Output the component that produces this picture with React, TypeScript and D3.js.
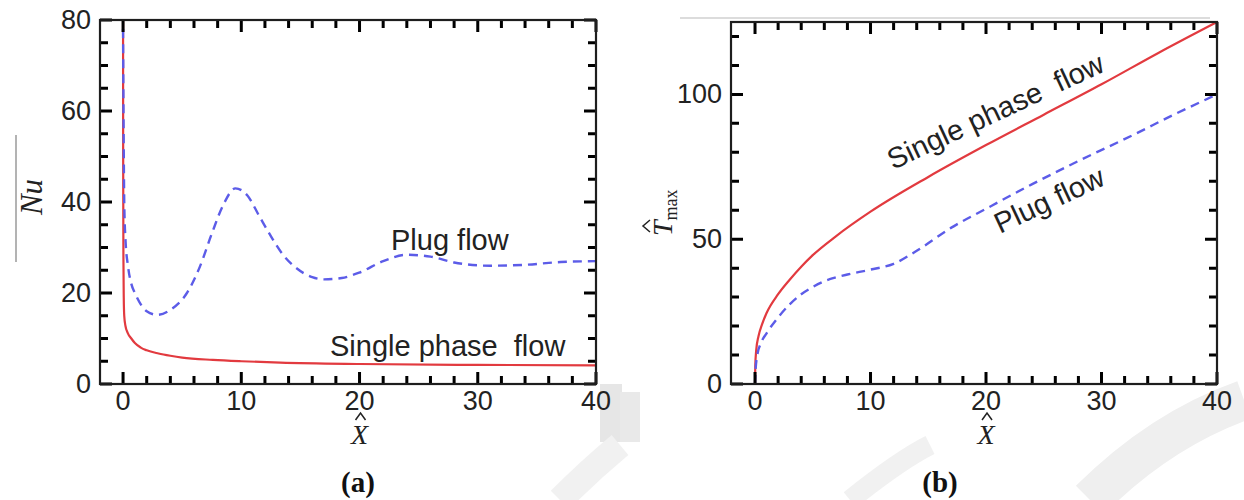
import React from 'react';
import * as d3 from 'd3';

// ---------- Data ----------
const nuSingleX = [0, 0.01, 0.03, 0.06, 0.1, 0.2, 0.4, 0.7, 1, 1.5, 2, 3, 4, 5, 7.6, 10, 13.3, 20, 30, 40];
const nuSingleY = [80, 50, 28, 19, 15, 12.8, 11.2, 10, 9, 8, 7.4, 6.7, 6.2, 5.8, 5.3, 5.0, 4.7, 4.4, 4.2, 4.1];
const nuPlugX = [0, 0.05, 0.1, 0.2, 0.43, 0.7, 1, 1.5, 2, 2.9, 4, 5.4, 6.5, 7.5, 8.5, 9.5, 10.5, 11.5, 12.5, 13.5, 14.5, 16, 17, 18.5, 20, 22, 24, 26, 28, 31, 34, 37, 40];
const nuPlugY = [78, 55, 40, 32, 25.7, 22, 20, 17.5, 16, 15.2, 16.3, 20, 25.8, 33, 39.5, 43, 41.5, 37, 32.5, 28.5, 25.8, 23.5, 23, 23.3, 24.5, 27, 28.4, 28, 26.7, 26, 26.2, 26.8, 27];

const tSingleX = [0, 0.02, 0.1, 0.3, 0.6, 1, 2, 3, 4, 5, 7, 10, 15, 20, 25, 30, 35, 40];
const tSingleY = [0, 6, 11.5, 16.5, 20.5, 24.5, 31, 36, 40.5, 44.5, 51, 59.5, 71.5, 82.5, 93, 103.5, 114.5, 125];
const tPlugX = [0, 0.05, 0.2, 0.5, 1, 2, 3, 4, 5, 6, 7, 8, 10, 12, 14, 17, 20, 24, 28, 33, 36, 40];
const tPlugY = [0, 5, 10, 14, 17.5, 23, 27.5, 31, 33.5, 35.5, 36.8, 37.8, 39.5, 41.5, 46, 54, 60.5, 69, 77, 86.5, 92.5, 100];

const xTickLabels = [0, 10, 20, 30, 40];
const nuTickLabels = [0, 20, 40, 60, 80];
const tTickLabels = [0, 50, 100];

const RED = '#e23a3f';
const BLUE = '#5c5ce8';
const AXIS = '#1e1e1e';
const SANS = '"Liberation Sans", Arial, sans-serif';
const SERIF = '"Liberation Serif", "Times New Roman", serif';

type PanelProps = {
  left: number; right: number; top: number; bottom: number;
  xDomain: [number, number]; yDomain: [number, number];
  yMinorStep: number; yMajorStep: number; yLabels: number[];
  single: [number[], number[]]; plug: [number[], number[]];
};

function Panel(p: PanelProps) {
  const x = d3.scaleLinear().domain(p.xDomain).range([p.left, p.right]);
  const y = d3.scaleLinear().domain(p.yDomain).range([p.bottom, p.top]);
  const line = d3.line<[number, number]>().x(d => x(d[0])).y(d => y(d[1])).curve(d3.curveMonotoneX);
  const pts = (s: [number[], number[]]) => s[0].map((v, i) => [v, s[1][i]] as [number, number]);

  const xTicks = d3.range(0, p.xDomain[1] + 0.001, 2);
  const yTicks = d3.range(p.yDomain[0], p.yDomain[1] + 0.001, p.yMinorStep);
  const isXMajor = (v: number) => Math.abs(v % 10) < 1e-6;
  const isYMajor = (v: number) => Math.abs(v % p.yMajorStep) < 1e-6;

  let tickPath = '';
  xTicks.forEach(v => {
    const L = isXMajor(v) ? 12 : 8;
    const px = x(v);
    tickPath += `M${px},${p.bottom}V${p.bottom - L}M${px},${p.top}V${p.top + L}`;
  });
  yTicks.forEach(v => {
    const L = isYMajor(v) ? 12 : 8;
    const py = y(v);
    tickPath += `M${p.left},${py}H${p.left + L}M${p.right},${py}H${p.right - L}`;
  });

  return (
    <g>
      <path d={line(pts(p.single)) || ''} fill="none" stroke={RED} strokeWidth={2.2} />
      <path d={line(pts(p.plug)) || ''} fill="none" stroke={BLUE} strokeWidth={2.4} strokeDasharray="9 6" />
      <path d={tickPath} fill="none" stroke="#000" strokeWidth={3} />
      <rect x={p.left} y={p.top} width={p.right - p.left} height={p.bottom - p.top} fill="none" stroke={AXIS} strokeWidth={2.2} />
      {xTickLabels.map(v => (
        <text key={'xl' + v} x={x(v)} y={p.bottom + 26} textAnchor="middle" fontFamily={SANS} fontSize={27} fill="#222">{v}</text>
      ))}
      {p.yLabels.map(v => (
        <text key={'yl' + v} x={p.left - 9} y={y(v) + 9} textAnchor="end" fontFamily={SANS} fontSize={27} fill="#222">{v}</text>
      ))}
      <text x={x(20)} y={444} textAnchor="middle" fontFamily={SERIF} fontStyle="italic" fontSize={28} fill="#222">X</text>
      <path d={`M${x(20) - 4},${420} L${x(20) + 1},${413} L${x(20) + 6},${420}`} fill="none" stroke="#222" strokeWidth={1.5} />
    </g>
  );
}

export default function App() {
  return (
    <svg width={1244} height={500} style={{ position: 'absolute', left: 0, top: 0, background: '#fff' }}>
      <rect width={1244} height={500} fill="#fff" />
      <rect x={600} y={384} width={22} height={58} fill="#e6e6e6" />
      <rect x={620} y={392} width={20} height={50} fill="#e9e9e9" />
      <path d="M1090,500 Q1160,430 1244,400" fill="none" stroke="#efefef" strokeWidth={40} />
      <path d="M850,500 Q900,460 930,445" fill="none" stroke="#f1f1f1" strokeWidth={20} />
      <path d="M560,500 Q590,470 620,445" fill="none" stroke="#f1f1f1" strokeWidth={26} />
      <line x1={680} x2={1210} y1={18} y2={18} stroke="#dcdcdc" strokeWidth={2} />

      <Panel left={100} right={596} top={20} bottom={384}
        xDomain={[-1.95, 40]} yDomain={[0, 80]} yMinorStep={5} yMajorStep={20} yLabels={nuTickLabels}
        single={[nuSingleX, nuSingleY]} plug={[nuPlugX, nuPlugY]} />
      <Panel left={731} right={1217} top={22} bottom={384}
        xDomain={[-2.08, 40]} yDomain={[0, 125]} yMinorStep={10} yMajorStep={50} yLabels={tTickLabels}
        single={[tSingleX, tSingleY]} plug={[tPlugX, tPlugY]} />

      <line x1={16} x2={16} y1={135} y2={262} stroke="#9a9a9a" strokeWidth={1.5} />
      <text transform="translate(42,197) rotate(-90)" textAnchor="middle" fontFamily={SERIF} fontStyle="italic" fontSize={31} fill="#222">Nu</text>
      <text x={391} y={250} fontFamily={SANS} fontSize={29} fill="#222">Plug flow</text>
      <text x={330} y={356} fontFamily={SANS} fontSize={29} fill="#222" xmlSpace="preserve">Single phase  flow</text>

      <text transform="translate(672,236) rotate(-90)" fontFamily={SERIF} fill="#222">
        <tspan fontStyle="italic" fontSize={28}>T</tspan>
        <tspan fontSize={18} dy={5}>max</tspan>
      </text>
      <path d="M650,232 L643,226 L650,220" fill="none" stroke="#222" strokeWidth={1.5} />
      <text transform="translate(893,170) rotate(-25)" fontFamily={SANS} fontSize={29} fill="#222" xmlSpace="preserve">Single phase  flow</text>
      <text transform="translate(1000,234) rotate(-25)" fontFamily={SANS} fontSize={29} fill="#222">Plug flow</text>

      <text x={358} y={492} textAnchor="middle" fontFamily={SERIF} fontWeight="bold" fontSize={29} fill="#111">(a)</text>
      <text x={940} y={492} textAnchor="middle" fontFamily={SERIF} fontWeight="bold" fontSize={29} fill="#111">(b)</text>
    </svg>
  );
}
